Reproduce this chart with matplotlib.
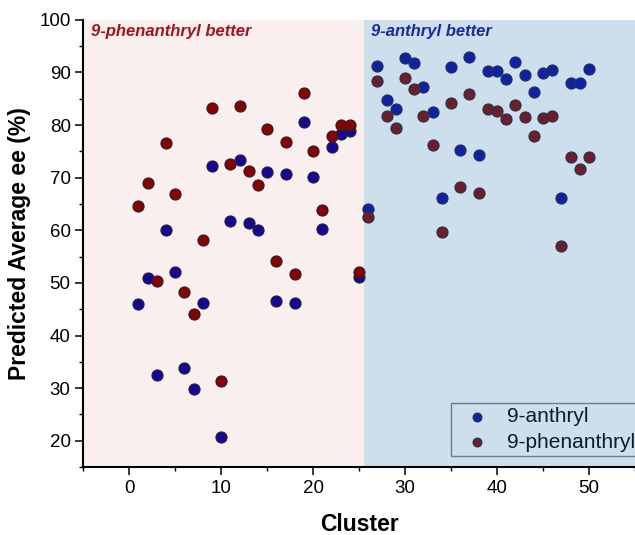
import matplotlib.pyplot as plt

plt.rcParams['font.family'] = ['Liberation Sans', 'DejaVu Sans']

# cluster index 1..50
clusters = list(range(1, 51))

anthryl_ee = [
    45.9, 51.0, 32.5, 60.0, 52.0, 33.9, 29.8, 46.1, 72.2, 20.7,
    61.8, 73.3, 61.4, 60.0, 71.1, 46.6, 70.7, 46.1, 80.6, 70.2,
    60.2, 75.9, 78.3, 78.9, 51.2, 64.1, 91.2, 84.8, 83.1, 92.7,
    91.8, 87.3, 82.4, 66.1, 91.0, 75.2, 93.0, 74.3, 90.3, 90.2,
    88.7, 91.9, 89.6, 86.3, 89.8, 90.5, 66.2, 88.0, 88.0, 90.6,
]

phenanthryl_ee = [
    64.6, 69.0, 50.3, 76.6, 66.9, 48.2, 44.0, 58.2, 83.3, 31.4,
    72.5, 83.6, 71.3, 68.6, 79.2, 54.1, 76.8, 51.7, 86.0, 75.1,
    63.8, 78.0, 80.0, 80.1, 52.0, 62.6, 88.4, 81.8, 79.4, 89.0,
    86.8, 81.8, 76.3, 59.7, 84.2, 68.2, 85.9, 67.1, 83.0, 82.7,
    81.1, 83.9, 81.5, 78.0, 81.4, 81.7, 57.1, 74.0, 71.6, 74.0,
]

split_at = 25.5

fig = plt.figure(figsize=(6.35, 5.35), dpi=100)
ax = fig.add_axes([0.131, 0.127, 0.869, 0.836])

# translucent region overlays sit above the markers (tints them like the original)
ax.axvspan(-5, split_at, color="#b8291a", alpha=0.07, lw=0, zorder=4)
ax.axvspan(split_at, 55, color="#2f7ab0", alpha=0.24, lw=0, zorder=4)

ax.scatter(clusters, anthryl_ee, s=64, color="#0606a2", edgecolors="#202030",
           linewidths=0.8, zorder=3, label="9-anthryl")
ax.scatter(clusters, phenanthryl_ee, s=64, color="#820000", edgecolors="#202030",
           linewidths=0.8, zorder=3, label="9-phenanthryl")

ax.text(-4.2, 97.7, "9-phenanthryl better", color="#a0141e", fontsize=12,
        fontweight="bold", fontstyle="italic", va="center", ha="left", zorder=6)
ax.text(26.3, 97.7, "9-anthryl better", color="#1a2a9a", fontsize=12,
        fontweight="bold", fontstyle="italic", va="center", ha="left", zorder=6)

ax.set_xlim(-5, 55)
ax.set_ylim(15, 100)
ax.set_xticks([0, 10, 20, 30, 40, 50])
ax.set_xticks(range(-5, 56, 5), minor=True)
ax.set_yticks(range(20, 101, 10))
ax.set_yticks(range(15, 101, 5), minor=True)

ax.tick_params(which="major", direction="out", length=5.5, width=1.1, labelsize=13.5)
ax.tick_params(which="minor", direction="out", length=3, width=1.0)

ax.spines["top"].set_visible(False)
ax.spines["right"].set_visible(False)
for side in ("left", "bottom"):
    ax.spines[side].set_linewidth(1.5)
    ax.spines[side].set_zorder(6)

ax.set_xlabel("Cluster", fontsize=16.5, fontweight="bold", labelpad=12)
ax.set_ylabel("Predicted Average ee (%)", fontsize=16.5, fontweight="bold", labelpad=6)

leg = ax.legend(loc="lower left", bbox_to_anchor=(0.667, 0.025), borderaxespad=0,
                fontsize=15, frameon=True, fancybox=False, edgecolor="#556070",
                handletextpad=0.4, borderpad=0.2, labelspacing=0.3,
                handlelength=2.1, markerscale=0.8)
leg.get_frame().set_facecolor("none")
leg.get_frame().set_linewidth(1.0)
leg.set_zorder(3.5)

fig.savefig("out.png", dpi=100)
